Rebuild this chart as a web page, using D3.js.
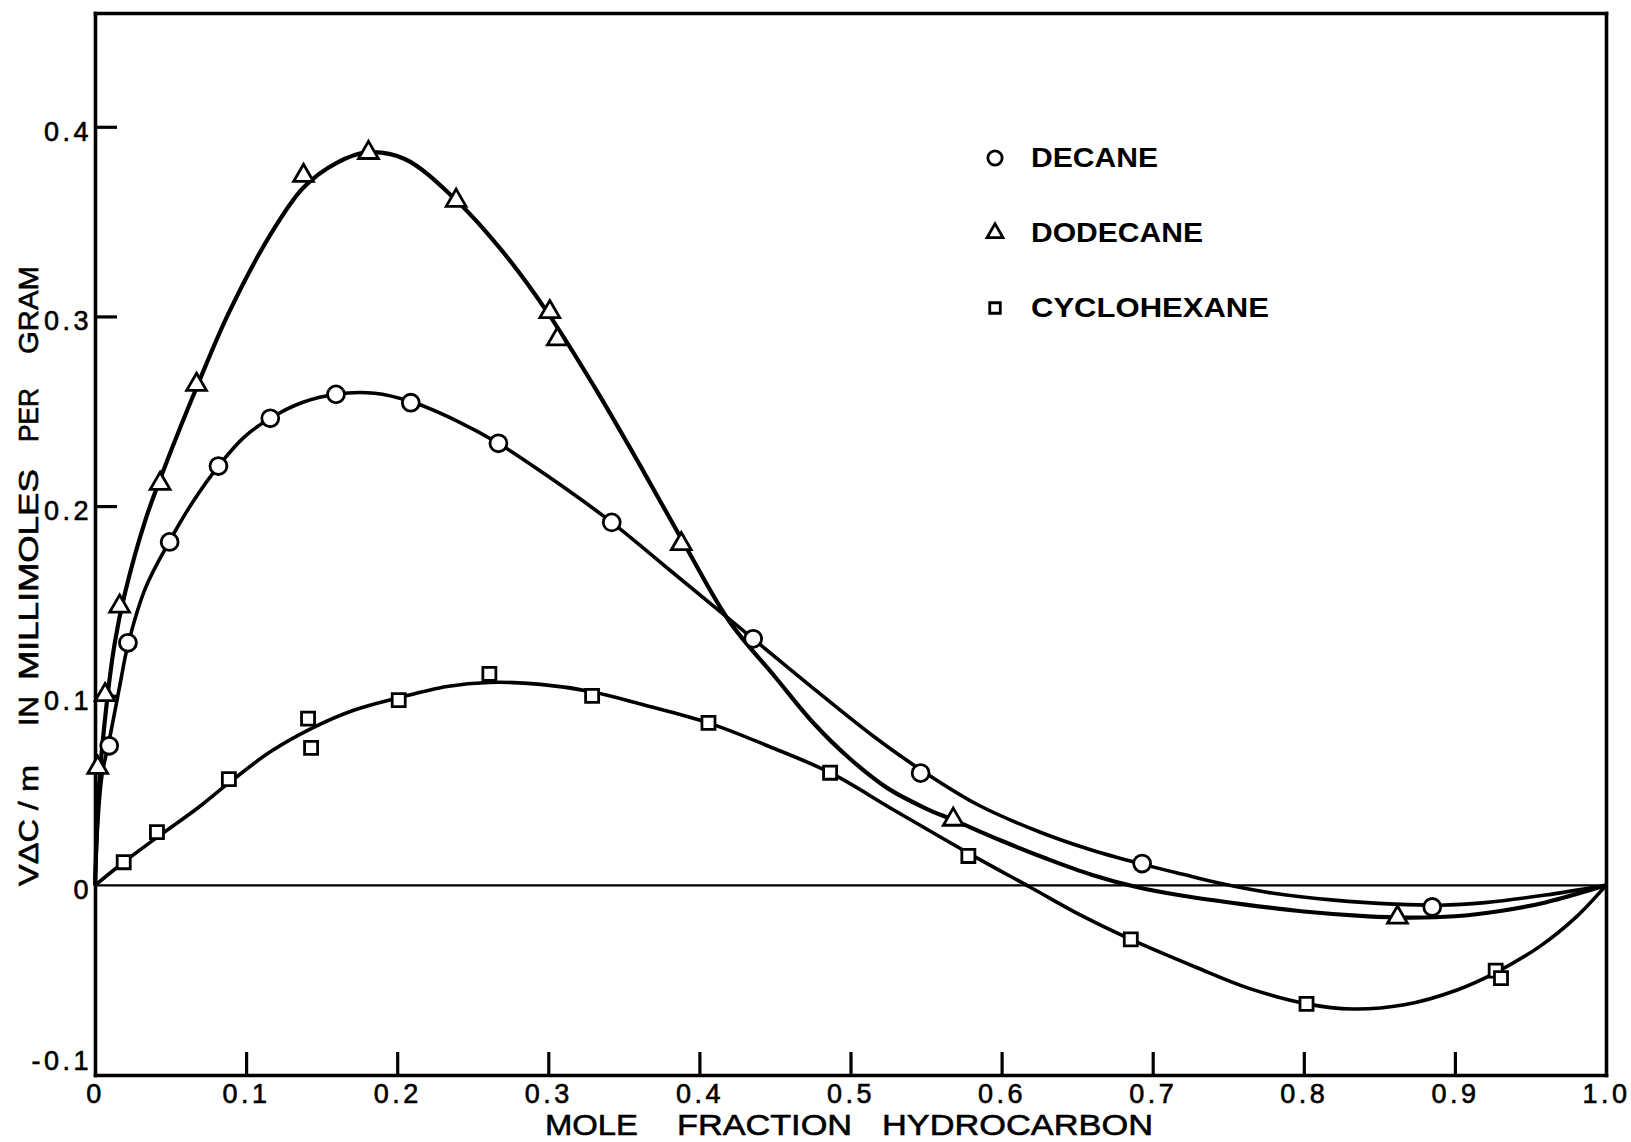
<!DOCTYPE html>
<html>
<head>
<meta charset="utf-8">
<script src="https://cdn.jsdelivr.net/npm/d3@7"></script>
<style>
  body { margin: 0; background: #fff; }
  text { font-family: "Liberation Sans", Arial, sans-serif; fill: #000; }
</style>
</head>
<body>
<div id="my_chart"></div>
<script>
// measured points  [mole fraction, value]
var decanePts = [[0.0094,0.0736],[0.0218,0.1279],[0.0494,0.1811],[0.0817,0.2211],[0.116,0.2463],
  [0.1595,0.2589],[0.209,0.2545],[0.267,0.2331],[0.342,0.1914],[0.4356,0.130],[0.5464,0.0592],
  [0.693,0.0115],[0.885,-0.0114]];
var dodecanePts = [[0.0018,0.0621],[0.0067,0.1004],[0.0163,0.1471],[0.0431,0.2118],[0.0672,0.264],
  [0.138,0.3742],[0.181,0.3863],[0.239,0.3611],[0.301,0.3024],[0.306,0.288],[0.388,0.180],
  [0.568,0.0347],[0.862,-0.0169]];
var cyclohexanePts = [[0.019,0.0122],[0.041,0.0281],[0.0886,0.056],[0.141,0.0879],[0.143,0.0725],
  [0.201,0.0977],[0.261,0.1115],[0.329,0.0999],[0.406,0.0857],[0.4865,0.0594],[0.578,0.0155],
  [0.6855,-0.0285],[0.8018,-0.0625],[0.927,-0.045],[0.9305,-0.0489]];

// fitted curves
var decaneCurve = [[0,0],[0.0019,0.0335],[0.0046,0.058],[0.0094,0.0763],[0.0163,0.1049],[0.0218,0.1268],
  [0.0335,0.157],[0.0494,0.1816],[0.0645,0.2019],[0.0817,0.2211],[0.0989,0.2365],[0.116,0.2463],
  [0.1367,0.2545],[0.1595,0.259],[0.185,0.2595],[0.209,0.2551],[0.24,0.2447],[0.267,0.2331],
  [0.302,0.2145],[0.342,0.1914],[0.3777,0.168],[0.4356,0.130],[0.474,0.1048],
  [0.5154,0.0785],[0.5464,0.061],[0.5843,0.0425],[0.6256,0.028],[0.66,0.0185],[0.693,0.0112],
  [0.72,0.0058],[0.746,0.0008],[0.78,-0.0042],[0.82,-0.0078],[0.86,-0.0099],[0.89,-0.0105],
  [0.92,-0.0091],[0.96,-0.0051],[1,0]];
var dodecaneCurve = [[0,0],[0.0025,0.05],[0.006,0.083],[0.0129,0.127],[0.0198,0.154],[0.0335,0.193],
  [0.0473,0.223],[0.068,0.264],[0.0886,0.302],[0.116,0.343],[0.138,0.368],[0.16,0.381],
  [0.18,0.3865],[0.205,0.383],[0.24,0.3605],[0.27,0.334],[0.30,0.3015],[0.33,0.2635],
  [0.36,0.2225],[0.39,0.180],[0.42,0.139],[0.45,0.110],[0.475,0.086],[0.50,0.0665],
  [0.525,0.051],[0.55,0.0405],[0.568,0.0345],[0.60,0.0235],[0.63,0.014],[0.66,0.0055],
  [0.69,-0.001],[0.72,-0.0055],[0.76,-0.010],[0.80,-0.0138],[0.84,-0.0162],[0.87,-0.017],
  [0.90,-0.0163],[0.93,-0.0135],[0.96,-0.009],[1,0]];
var cyclohexaneCurve = [[0,0],[0.0198,0.0127],[0.0412,0.0254],[0.068,0.0408],[0.0886,0.054],
  [0.116,0.0704],[0.1437,0.0829],[0.1712,0.0923],[0.2008,0.0989],[0.233,0.1049],[0.2607,0.107],
  [0.295,0.106],[0.3288,0.1021],[0.364,0.095],[0.406,0.0857],[0.4466,0.0731],[0.4865,0.0594],
  [0.5292,0.0395],[0.578,0.017],[0.619,-0.001],[0.653,-0.016],[0.6855,-0.0285],[0.729,-0.0433],
  [0.7633,-0.0542],[0.802,-0.0625],[0.832,-0.0652],[0.8665,-0.063],[0.901,-0.0553],[0.927,-0.046],
  [0.956,-0.0323],[0.98,-0.0169],[1,0]];

var xTicks = [0,0.1,0.2,0.3,0.4,0.5,0.6,0.7,0.8,0.9,1.0];
var yTicks = [-0.1,0,0.1,0.2,0.3,0.4];
var legendNames = ["DECANE","DODECANE","CYCLOHEXANE"];

// set the dimensions and margins of the graph
var margin = { top: 13, right: 25, bottom: 67, left: 95 },
    width = 1631 - margin.left - margin.right,
    height = 1142 - margin.top - margin.bottom;

var root = d3.select("#my_chart")
    .append("svg")
    .attr("width", 1631)
    .attr("height", 1142);

var svg = root.append("g")
    .attr("transform", "translate(" + margin.left + "," + margin.top + ")");

var x = d3.scaleLinear().domain([0, 1]).range([0, width]);
var y = d3.scaleLinear().domain([-0.1, 0.46]).range([height, 0]);

var fmt = function(d) { return d === 0 ? "0" : (d < 0 ? "-" : "") + Math.abs(d).toFixed(1); };

// bottom axis, ticks pointing in
var xAxis = svg.append("g")
    .attr("transform", "translate(0," + height + ")")
    .call(d3.axisBottom(x).tickValues(xTicks).tickSizeInner(-23).tickSizeOuter(0).tickPadding(9).tickFormat(fmt));
xAxis.selectAll(".tick line").filter(function(d) { return d === 0 || d === 1; }).remove();

// left axis
var yAxis = svg.append("g")
    .call(d3.axisLeft(y).tickValues(yTicks).tickSizeInner(-22).tickSizeOuter(0).tickPadding(3).tickFormat(fmt));
yAxis.selectAll(".tick line").filter(function(d) { return d <= 0; }).remove();
yAxis.selectAll(".tick text").attr("dy", function(d) { return d < 0 ? "-0.22em" : "0.5em"; });

// top + right frame
svg.append("g").call(d3.axisTop(x).tickValues([]).tickSizeOuter(0));
svg.append("g").attr("transform", "translate(" + width + ",0)")
    .call(d3.axisRight(y).tickValues([]).tickSizeOuter(0));

svg.selectAll(".domain").attr("stroke-width", 3.6).attr("stroke-linecap", "square");
svg.selectAll(".tick line").attr("stroke-width", 3.2);
svg.selectAll(".tick text")
    .style("font-size", "27px")
    .style("letter-spacing", "3.5px")
    .style("font-family", "'Liberation Sans', Arial, sans-serif")
    .attr("stroke", "#000").attr("stroke-width", 0.6);

// zero line
svg.append("line")
    .attr("x1", x(0)).attr("x2", x(1))
    .attr("y1", y(0)).attr("y2", y(0))
    .attr("stroke", "#000").attr("stroke-width", 2.2);

// curves
var line = d3.line()
    .x(function(d) { return x(d[0]); })
    .y(function(d) { return y(d[1]); })
    .curve(d3.curveCatmullRom.alpha(0.5));

[[decaneCurve, 3.6], [dodecaneCurve, 4.2], [cyclohexaneCurve, 3.6]].forEach(function(c) {
  svg.append("path")
    .datum(c[0])
    .attr("d", line)
    .attr("fill", "none")
    .attr("stroke", "#000")
    .attr("stroke-width", c[1])
    .attr("stroke-linejoin", "round");
});

// markers
var symCircle = d3.symbol().type(d3.symbolCircle).size(225);
var symTri = d3.symbol().type(d3.symbolTriangle).size(170);
var symSq = d3.symbol().type(d3.symbolSquare).size(170);

var series = [[decanePts, symCircle], [dodecanePts, symTri], [cyclohexanePts, symSq]];
series.forEach(function(s) {
  svg.selectAll(null)
    .data(s[0])
    .enter()
    .append("path")
      .attr("d", s[1])
      .attr("transform", function(d) { return "translate(" + x(d[0]) + "," + y(d[1]) + ")"; })
      .attr("fill", "#fff")
      .attr("stroke", "#000")
      .attr("stroke-width", 2.8);
});

// legend
var legendSyms = [d3.symbol().type(d3.symbolCircle).size(160),
                  d3.symbol().type(d3.symbolTriangle).size(110),
                  d3.symbol().type(d3.symbolSquare).size(110)];
var legendLen = [127, 172, 238];
var legend = svg.append("g").attr("transform", "translate(900,145)");
legendNames.forEach(function(name, i) {
  legend.append("path")
    .attr("d", legendSyms[i])
    .attr("transform", "translate(0," + (i * 75) + ")")
    .attr("fill", "#fff").attr("stroke", "#000").attr("stroke-width", 2.8);
  legend.append("text")
    .attr("x", 36).attr("y", i * 75 + 9)
    .attr("textLength", legendLen[i]).attr("lengthAdjust", "spacingAndGlyphs")
    .style("font-size", "27px").style("font-weight", "bold")
    .text(name);
});

// axis titles
var xTitle = [["MOLE", 545, 93], ["FRACTION", 677, 175], ["HYDROCARBON", 882, 271]];
xTitle.forEach(function(t) {
  root.append("text")
    .attr("x", t[1]).attr("y", 1135)
    .attr("textLength", t[2]).attr("lengthAdjust", "spacingAndGlyphs")
    .attr("stroke", "#000").attr("stroke-width", 0.6)
    .style("font-size", "30px")
    .text(t[0]);
});

var yTitle = [["V\u0394C / m", 886, 121], ["IN", 726, 30], ["MILLIMOLES", 680, 211], ["PER", 442, 54], ["GRAM", 354, 88]];
yTitle.forEach(function(t) {
  root.append("text")
    .attr("transform", "translate(38," + t[1] + ") rotate(-90)")
    .attr("textLength", t[2]).attr("lengthAdjust", "spacingAndGlyphs")
    .attr("stroke", "#000").attr("stroke-width", 0.6)
    .style("font-size", "28px")
    .text(t[0]);
});
</script>
</body>
</html>
